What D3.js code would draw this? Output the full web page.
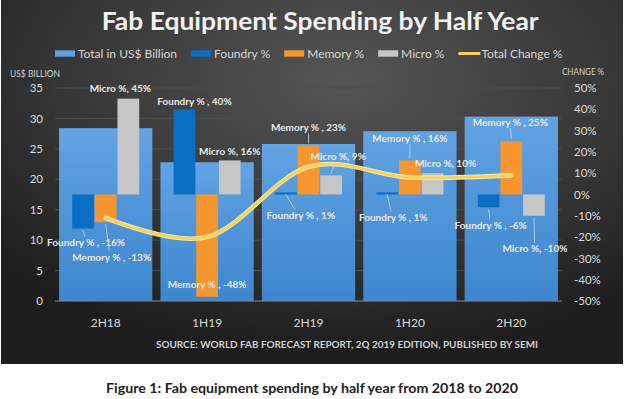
<!DOCTYPE html>
<html>
<head>
<meta charset="utf-8">
<script src="https://cdn.jsdelivr.net/npm/d3@7"></script>
<style>
  body { margin: 0; background: #fff; }
  svg { display: block; }
  text { font-family: Lato, "Open Sans", sans-serif; }
</style>
</head>
<body>
<svg id="chart"></svg>
<script>
// values
var halves = ["2H18", "1H19", "2H19", "1H20", "2H20"]
var totalBillion = [28.4, 22.8, 25.8, 27.9, 30.3]
var foundryPct = [-16, 40, 1, 1, -6]
var memoryPct = [-13, -48, 23, 16, 25]
var microPct = [45, 16, 9, 10, -10]
var totalChangePct = [-11, -20, 13, 8, 9]
var segments = ["Foundry", "Memory", "Micro"]
var leftTicks = [0, 5, 10, 15, 20, 25, 30, 35]
var rightTicks = [-50, -40, -30, -20, -10, 0, 10, 20, 30, 40, 50]
var legendNames = ["Total in US$ Billion", "Foundry %", "Memory %", "Micro %", "Total Change %"]

// where each data label sits, relative to the end of its bar
var labelOffsets = {
  Foundry: [[3, 14], [10, -8], [15, 23], [6, 25], [2, 18]],
  Memory:  [[6, 35], [0, -12], [0, -18], [0, -22], [-1, -19]],
  Micro:   [[-8, -10], [0, -9], [7, -19], [13, -10], [1, 33]]
}

var colors = {Total: "#5a9de0", Foundry: "#0a6fc2", Memory: "#f7962e", Micro: "#c6c6c6", Line: "#f2d262"}

var W = 625, H = 399
var svg = d3.select("#chart").attr("width", W).attr("height", H)
var defs = svg.append("defs")

var bg = defs.append("radialGradient").attr("id", "bg")
  .attr("cx", "0.55").attr("cy", "0.22").attr("r", "0.75")
bg.append("stop").attr("offset", "0").attr("stop-color", "#555555")
bg.append("stop").attr("offset", "0.6").attr("stop-color", "#363636")
bg.append("stop").attr("offset", "1").attr("stop-color", "#1d1d1d")

var barGrad = defs.append("linearGradient").attr("id", "barGrad")
  .attr("x1", 0).attr("y1", 0).attr("x2", 0).attr("y2", 1)
barGrad.append("stop").attr("offset", "0").attr("stop-color", "#62a3e2")
barGrad.append("stop").attr("offset", "1").attr("stop-color", "#3d86cf")

svg.append("rect").attr("x", 1).attr("y", 0).attr("width", 622).attr("height", 364)
  .attr("fill", "url(#bg)")

function fit(sel, w) {
  return sel.attr("textLength", w).attr("lengthAdjust", "spacingAndGlyphs")
}

var x = d3.scaleBand().domain(halves).range([55, 562]).paddingInner(0.08).paddingOuter(0.04)
var groupW = 67
var x1 = d3.scaleBand().domain(segments)
  .range([(x.bandwidth() - groupW) / 2, (x.bandwidth() + groupW) / 2]).paddingInner(0.04)
var yL = d3.scaleLinear().domain([0, 35]).range([301, 88])
var yR = d3.scaleLinear().domain([-50, 50]).range([301, 88])

// grid
svg.append("g").selectAll("line").data(leftTicks.slice(1)).enter().append("line")
  .attr("x1", 55).attr("x2", 562)
  .attr("y1", function(d){ return yL(d) }).attr("y2", function(d){ return yL(d) })
  .attr("stroke", "#4d4d4d").attr("stroke-width", 1)

// total bars
svg.append("g").selectAll("rect").data(halves).enter().append("rect")
  .attr("x", function(d){ return x(d) })
  .attr("width", x.bandwidth())
  .attr("y", function(d, i){ return yL(totalBillion[i]) })
  .attr("height", function(d, i){ return yL(0) - yL(totalBillion[i]) })
  .attr("fill", "url(#barGrad)")

// baseline
svg.append("line").attr("x1", 55).attr("x2", 562).attr("y1", yL(0)).attr("y2", yL(0))
  .attr("stroke", "#7d8a99").attr("stroke-width", 1.2)

var segValues = {Foundry: foundryPct, Memory: memoryPct, Micro: microPct}
var segRows = []
segments.forEach(function(s){
  halves.forEach(function(h, i){
    segRows.push({seg: s, half: h, i: i, v: segValues[s][i]})
  })
})

svg.append("g").selectAll("rect").data(segRows).enter().append("rect")
  .attr("x", function(d){ return x(d.half) + x1(d.seg) })
  .attr("width", x1.bandwidth())
  .attr("y", function(d){ return yR(Math.max(0, d.v)) })
  .attr("height", function(d){ return Math.max(1.5, Math.abs(yR(d.v) - yR(0))) })
  .attr("fill", function(d){ return colors[d.seg] })

// total change line
var line = d3.line()
  .x(function(d, i){ return x(halves[i]) + x.bandwidth() / 2 })
  .y(function(d){ return yR(d) })
  .curve(d3.curveCardinal.tension(0))
svg.append("path").datum(totalChangePct).attr("d", line)
  .attr("fill", "none").attr("stroke", "#fbeaa6").attr("stroke-width", 4.6).attr("stroke-linecap", "round")
svg.append("path").datum(totalChangePct).attr("d", line)
  .attr("fill", "none").attr("stroke", colors.Line).attr("stroke-width", 2.8).attr("stroke-linecap", "round")

// data labels + leaders
var labels = svg.append("g")
segRows.forEach(function(d){
  var off = labelOffsets[d.seg][d.i]
  var bx = x(d.half) + x1(d.seg) + x1.bandwidth() / 2
  var by = yR(d.v)
  var lx = bx + off[0], ly = by + off[1]
  if (Math.abs(off[1]) >= 14) {
    var s = off[1] > 0 ? 1 : -1
    labels.append("line")
      .attr("x1", bx).attr("y1", by + s * 2)
      .attr("x2", bx + off[0] * 0.6).attr("y2", ly - s * 6)
      .attr("stroke", "#c8d4e0").attr("stroke-width", 0.8)
  }
  var txt = d.seg === "Micro" ? "Micro %, " + d.v + "%" : d.seg + " % , " + d.v + "%"
  labels.append("text").attr("x", lx).attr("y", ly).attr("dy", "0.35em")
    .attr("text-anchor", "middle").attr("font-size", 10).attr("font-weight", "bold")
    .attr("fill", "#e8e8e8").text(txt)
})

// axes
var axL = svg.append("g").attr("transform", "translate(55,0)")
  .call(d3.axisLeft(yL).tickValues(leftTicks).tickSize(0).tickPadding(12))
var axR = svg.append("g").attr("transform", "translate(562,0)")
  .call(d3.axisRight(yR).tickValues(rightTicks).tickSize(0).tickPadding(12)
    .tickFormat(function(d){ return d + "%" }))
var axB = svg.append("g").attr("transform", "translate(0," + yL(0) + ")")
  .call(d3.axisBottom(x).tickSize(0).tickPadding(17))
;[axL, axR, axB].forEach(function(a){
  a.select(".domain").remove()
  a.selectAll("text").attr("fill", "#d9d9d9").attr("font-size", 11.5)
    .style("font-family", "Lato, 'Open Sans', sans-serif")
})
axB.selectAll("text").attr("font-size", 12)

fit(svg.append("text").attr("x", 10).attr("y", 76.5).attr("font-size", 8.5)
  .attr("fill", "#d0d0d0").text("US$ BILLION"), 50)
fit(svg.append("text").attr("x", 562).attr("y", 75).attr("font-size", 8.5)
  .attr("fill", "#d0d0d0").text("CHANGE %"), 42)

// title
fit(svg.append("text").attr("x", 101.7).attr("y", 30).attr("font-size", 24)
  .attr("font-weight", "bold").attr("fill", "#f2f2f2")
  .text("Fab Equipment Spending by Half Year"), 437)

// legend
var legend = svg.append("g").attr("transform", "translate(55,53.5)")
var lx0 = 0
var legendKeys = ["Total", "Foundry", "Memory", "Micro", "Line"]
legendNames.forEach(function(name, i){
  var g = legend.append("g").attr("transform", "translate(" + lx0 + ",0)")
  if (legendKeys[i] === "Line") {
    g.append("rect").attr("x", 0).attr("y", -1.5).attr("width", 22).attr("height", 3)
      .attr("fill", colors.Line)
  } else {
    g.append("rect").attr("x", 0).attr("y", -3.2).attr("width", 20).attr("height", 6.4)
      .attr("fill", legendKeys[i] === "Total" ? "#5f9fdd" : colors[legendKeys[i]])
  }
  var t = g.append("text").attr("x", legendKeys[i] === "Line" ? 23 : 23).attr("y", 0)
    .attr("dy", "0.35em").attr("font-size", 12).attr("fill", "#d6d6d6").text(name)
  lx0 += 23 + t.node().getComputedTextLength() + 14
})

// source + caption
fit(svg.append("text").attr("x", 156).attr("y", 347.5).attr("font-size", 10)
  .attr("font-weight", "bold").attr("fill", "#cfcfcf")
  .text("SOURCE: WORLD FAB FORECAST REPORT, 2Q 2019 EDITION, PUBLISHED BY  SEMI"), 382)
fit(svg.append("text").attr("x", 106).attr("y", 392.5).attr("font-size", 13)
  .attr("font-weight", "bold").attr("fill", "#222")
  .text("Figure 1: Fab equipment spending by half year from 2018 to 2020"), 412)
</script>
</body>
</html>
